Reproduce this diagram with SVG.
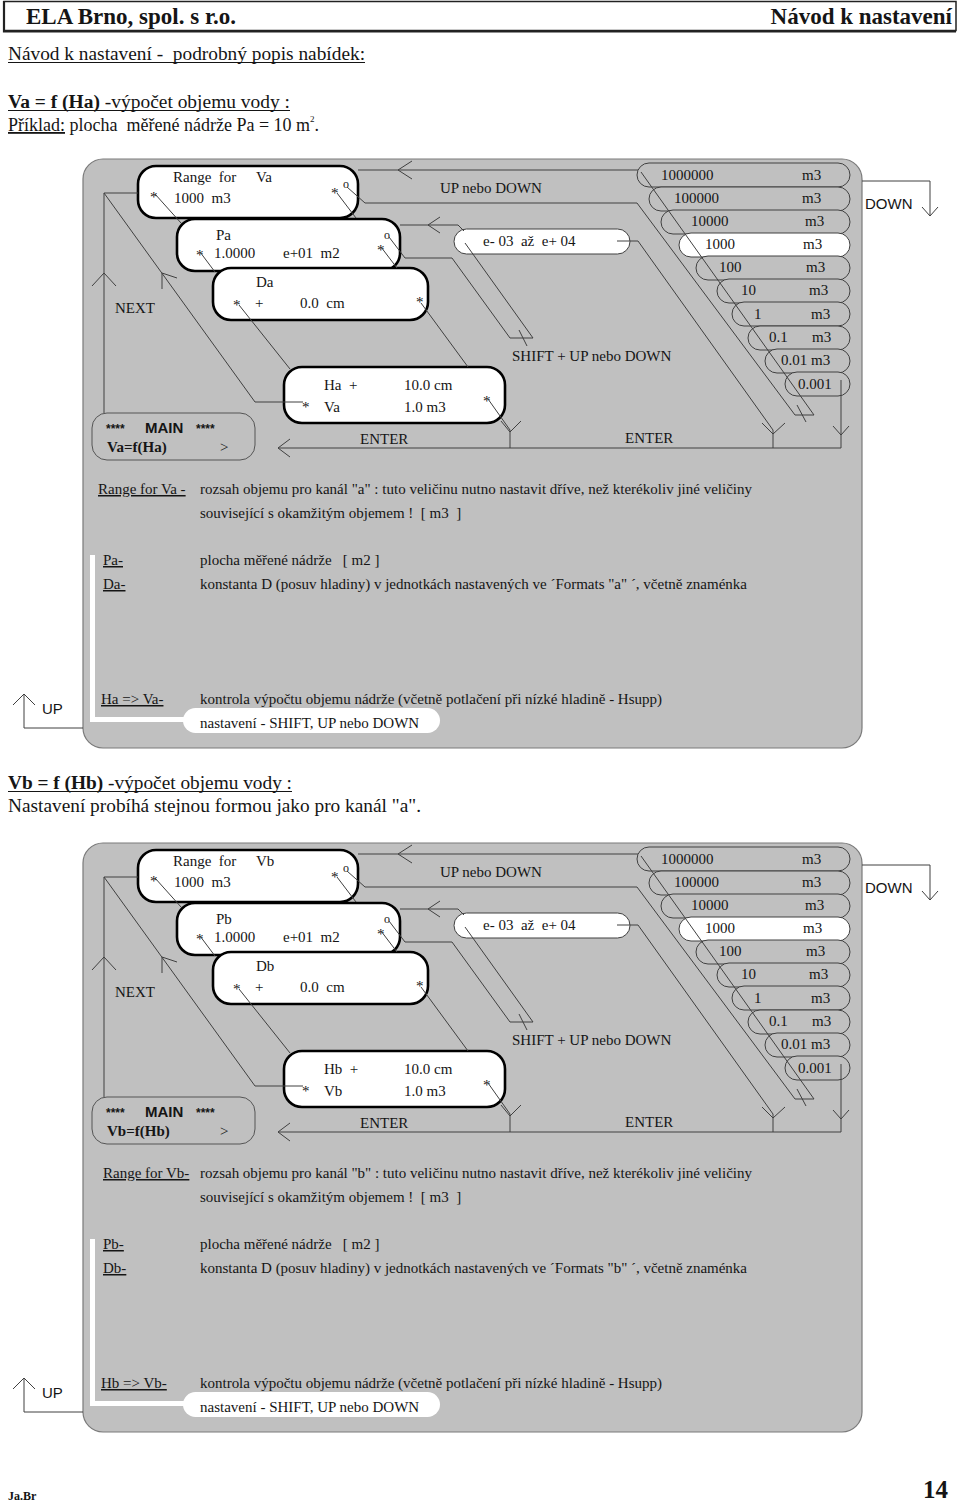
<svg xmlns="http://www.w3.org/2000/svg" width="960" height="1503" viewBox="0 0 960 1503">
<style>
.t{font-family:"Liberation Serif","Times New Roman",serif;font-size:15px;fill:#151515}
.s{font-family:"Liberation Sans",Arial,sans-serif;font-size:15px;fill:#151515}
.b{font-weight:bold}
.panel{fill:#c0c0c0;stroke:#7a7a7a;stroke-width:1.2}
.box{fill:#fff;stroke:#000;stroke-width:2.6}
.main{fill:#c0c0c0;stroke:#555;stroke-width:1}
.pill{fill:#c0c0c0;stroke:#404040;stroke-width:1}
.wpill{fill:#fff;stroke:#404040;stroke-width:1}
.ln{fill:none;stroke:#404040;stroke-width:1}
.wl{fill:none;stroke:#fff;stroke-width:5}
.ul{fill:none;stroke:#151515;stroke-width:1.1}
.u{text-decoration:underline}
</style>
<rect width="960" height="1503" fill="#fff"/>

<g id="header">
<rect x="4" y="1.5" width="952" height="29" fill="none" stroke="#222" stroke-width="1.5"/>
<path d="M4,1 V31.5 H956" fill="none" stroke="#222" stroke-width="2.2"/>
<text class="t b" x="26" y="24" style="font-size:23px">ELA Brno, spol. s r.o.</text>
<text class="t b" x="952" y="24" text-anchor="end" style="font-size:23px">Návod k nastavení</text>
</g>

<g id="intro">
<text class="t" x="8" y="60" style="font-size:18px" textLength="357" lengthAdjust="spacingAndGlyphs" xml:space="preserve">Návod k nastavení -  podrobný popis nabídek:</text>
<path class="ul" d="M8,62.5 H365"/>
<text class="t" x="8" y="108" style="font-size:18px" textLength="282" lengthAdjust="spacingAndGlyphs"><tspan class="b">Va = f (Ha)</tspan> -výpočet objemu vody :</text>
<path class="ul" d="M8,110.5 H290"/>
<text class="t" x="8" y="131" style="font-size:18px" xml:space="preserve"><tspan class="u">Příklad:</tspan> plocha  měřené nádrže Pa = 10 m<tspan style="font-size:9px" dy="-9">2</tspan><tspan dy="9">.</tspan></text>
</g>

<!-- ================= PANEL A ================= -->
<g id="panel-a">
<rect class="panel" x="83" y="159" width="779" height="589" rx="20"/>

<g id="a-range">
<rect class="box" x="138" y="166" width="220" height="52" rx="18"/>
<text class="t" x="173" y="182" xml:space="preserve">Range  for</text>
<text class="t" x="256" y="182">Va</text>
<text class="t" x="150" y="202">*</text>
<text class="t" x="174" y="203" xml:space="preserve">1000  m3</text>
<text class="t" x="331" y="198">*</text>
<text class="t" x="343" y="188" style="font-size:12px">o</text>
</g>

<g id="a-pa">
<rect class="box" x="177" y="219" width="223" height="52" rx="18"/>
<text class="t" x="216" y="240">Pa</text>
<text class="t" x="196" y="260">*</text>
<text class="t" x="214" y="258">1.0000</text>
<text class="t" x="283" y="258" xml:space="preserve">e+01  m2</text>
<text class="t" x="377" y="255">*</text>
<text class="t" x="384" y="239" style="font-size:12px">o</text>
</g>

<g id="a-da">
<rect class="box" x="213" y="268" width="215" height="52" rx="18"/>
<text class="t" x="256" y="287">Da</text>
<text class="t" x="233" y="310">*</text>
<text class="t" x="255" y="308">+</text>
<text class="t" x="300" y="308" xml:space="preserve">0.0  cm</text>
<text class="t" x="416" y="307">*</text>
</g>

<g id="a-ha">
<rect class="box" x="284" y="367" width="221" height="56" rx="18"/>
<text class="t" x="324" y="390" xml:space="preserve">Ha  +</text>
<text class="t" x="404" y="390">10.0 cm</text>
<text class="t" x="302" y="412">*</text>
<text class="t" x="324" y="412">Va</text>
<text class="t" x="404" y="412">1.0 m3</text>
<text class="t" x="483" y="406">*</text>
</g>

<g id="a-main">
<rect class="main" x="92" y="413" width="163" height="47" rx="15"/>
<text class="s b" x="106" y="433" style="font-size:12px">****</text>
<text class="s b" x="145" y="433">MAIN</text>
<text class="s b" x="196" y="433" style="font-size:12px">****</text>
<text class="t b" x="107" y="452">Va=f(Ha)</text>
<text class="t" x="220" y="452">&gt;</text>
</g>

<g id="a-exp">
<rect class="wpill" x="454" y="229" width="176" height="25" rx="12.5"/>
<text class="t" x="483" y="246" xml:space="preserve">e- 03  až  e+ 04</text>
</g>

<g id="a-units">
<rect class="pill" x="637" y="163" width="213" height="24" rx="12"/>
<text class="t" x="661" y="180">1000000</text><text class="t" x="802" y="180">m3</text>
<rect class="pill" x="649" y="187" width="201" height="24" rx="12"/>
<text class="t" x="674" y="203">100000</text><text class="t" x="802" y="203">m3</text>
<rect class="pill" x="661" y="210" width="189" height="24" rx="12"/>
<text class="t" x="691" y="226">10000</text><text class="t" x="805" y="226">m3</text>
<rect class="wpill" x="679" y="233" width="171" height="24" rx="12"/>
<text class="t" x="705" y="249">1000</text><text class="t" x="803" y="249">m3</text>
<rect class="pill" x="696" y="256" width="154" height="24" rx="12"/>
<text class="t" x="719" y="272">100</text><text class="t" x="806" y="272">m3</text>
<rect class="pill" x="717" y="279" width="133" height="24" rx="12"/>
<text class="t" x="741" y="295">10</text><text class="t" x="809" y="295">m3</text>
<rect class="pill" x="732" y="302" width="118" height="24" rx="12"/>
<text class="t" x="754" y="319">1</text><text class="t" x="811" y="319">m3</text>
<rect class="pill" x="748" y="326" width="102" height="24" rx="12"/>
<text class="t" x="769" y="342">0.1</text><text class="t" x="812" y="342">m3</text>
<rect class="pill" x="765" y="349" width="85" height="24" rx="12"/>
<text class="t" x="781" y="365">0.01 m3</text>
<rect class="pill" x="785" y="372" width="65" height="24" rx="12"/>
<text class="t" x="798" y="389">0.001</text>
</g>

<g id="a-labels">
<text class="t" x="115" y="313">NEXT</text>
<text class="t" x="440" y="193">UP nebo DOWN</text>
<text class="t" x="512" y="361">SHIFT + UP nebo DOWN</text>
<text class="t" x="360" y="444">ENTER</text>
<text class="t" x="625" y="443">ENTER</text>
<text class="s" x="865" y="209">DOWN</text>
<text class="s" x="42" y="714">UP</text>
</g>

<g id="connectors-a" class="ln">
<path d="M358,170 H638"/>
<path d="M412,161 L398,170 L412,179"/>
<path d="M347,187 L365,203 H637 L795,415 H814"/>
<path d="M641,172 L814,415"/>
<path d="M797,405 L806,422"/>
<path d="M617,241 H638 L773,430 V448"/>
<path d="M762,423 L773,434 L785,423"/>
<path d="M841,380 V448"/>
<path d="M833,426 L841,435 L849,426"/>
<path d="M278,448 H841"/>
<path d="M290,439 L278,448 L290,457"/>
<path d="M488,399 L510,430 V448"/>
<path d="M501,421 L510,432 L521,421"/>
<path d="M104,413 V193 H138"/>
<path d="M92,286 L104,273 L116,286"/>
<path d="M104,193 L255,402 H303"/>
<path d="M162,289 V273 L177,278"/>
<path d="M155,194 L181,223"/>
<path d="M200,252 L215,272"/>
<path d="M239,305 L290,369"/>
<path d="M337,193 L356,218"/>
<path d="M381,247 L397,268"/>
<path d="M421,303 L468,367"/>
<path d="M400,225 H458 L464,231"/>
<path d="M440,217 L428,225 L440,233"/>
<path d="M389,237 L405,258 H452 L510,338 H533"/>
<path d="M465,243 L533,338"/>
<path d="M519,330 L527,346"/>
<path d="M862,181 H930 V216"/>
<path d="M922,207 L930,216 L938,207"/>
<path d="M83,728 H24 V694"/>
<path d="M13,705 L24,694 L35,705"/>
</g>

<g id="a-text">
<path class="wl" d="M92.5,555 V719.5 H185"/>
<rect x="183" y="708" width="257" height="25" rx="12.5" fill="#fff"/>
<text class="t u" x="98" y="494">Range for Va -</text>
<text class="t" x="200" y="494" textLength="552">rozsah objemu pro kanál "a" : tuto veličinu nutno nastavit dříve, než kterékoliv jiné veličiny</text>
<text class="t" x="200" y="518" xml:space="preserve">související s okamžitým objemem !  [ m3  ]</text>
<text class="t u" x="103" y="565">Pa-</text>
<text class="t" x="200" y="565" xml:space="preserve">plocha měřené nádrže   [ m2 ]</text>
<text class="t u" x="103" y="589">Da-</text>
<text class="t" x="200" y="589" textLength="547">konstanta D (posuv hladiny) v jednotkách nastavených ve ´Formats "a" ´, včetně znaménka</text>
<text class="t u" x="101" y="704">Ha =&gt; Va-</text>
<text class="t" x="200" y="704" textLength="462">kontrola výpočtu objemu nádrže (včetně potlačení při nízké hladině - Hsupp)</text>
<text class="t" x="200" y="728">nastavení - SHIFT, UP nebo DOWN</text>
</g>
</g>

<g id="intro-b">
<text class="t" x="8" y="789" style="font-size:18px" textLength="284" lengthAdjust="spacingAndGlyphs"><tspan class="b">Vb = f (Hb)</tspan> -výpočet objemu vody :</text>
<path class="ul" d="M8,791.5 H292"/>
<text class="t" x="8" y="812" style="font-size:19px" textLength="413" lengthAdjust="spacingAndGlyphs">Nastavení probíhá stejnou formou jako pro kanál "a".</text>
</g>

<!-- ================= PANEL B ================= -->
<g id="panel-b" transform="translate(0,684)">
<rect class="panel" x="83" y="159" width="779" height="589" rx="20"/>

<g id="b-range">
<rect class="box" x="138" y="166" width="220" height="52" rx="18"/>
<text class="t" x="173" y="182" xml:space="preserve">Range  for</text>
<text class="t" x="256" y="182">Vb</text>
<text class="t" x="150" y="202">*</text>
<text class="t" x="174" y="203" xml:space="preserve">1000  m3</text>
<text class="t" x="331" y="198">*</text>
<text class="t" x="343" y="188" style="font-size:12px">o</text>
</g>

<g id="b-pb">
<rect class="box" x="177" y="219" width="223" height="52" rx="18"/>
<text class="t" x="216" y="240">Pb</text>
<text class="t" x="196" y="260">*</text>
<text class="t" x="214" y="258">1.0000</text>
<text class="t" x="283" y="258" xml:space="preserve">e+01  m2</text>
<text class="t" x="377" y="255">*</text>
<text class="t" x="384" y="239" style="font-size:12px">o</text>
</g>

<g id="b-db">
<rect class="box" x="213" y="268" width="215" height="52" rx="18"/>
<text class="t" x="256" y="287">Db</text>
<text class="t" x="233" y="310">*</text>
<text class="t" x="255" y="308">+</text>
<text class="t" x="300" y="308" xml:space="preserve">0.0  cm</text>
<text class="t" x="416" y="307">*</text>
</g>

<g id="b-hb">
<rect class="box" x="284" y="367" width="221" height="56" rx="18"/>
<text class="t" x="324" y="390" xml:space="preserve">Hb  +</text>
<text class="t" x="404" y="390">10.0 cm</text>
<text class="t" x="302" y="412">*</text>
<text class="t" x="324" y="412">Vb</text>
<text class="t" x="404" y="412">1.0 m3</text>
<text class="t" x="483" y="406">*</text>
</g>

<g id="b-main">
<rect class="main" x="92" y="413" width="163" height="47" rx="15"/>
<text class="s b" x="106" y="433" style="font-size:12px">****</text>
<text class="s b" x="145" y="433">MAIN</text>
<text class="s b" x="196" y="433" style="font-size:12px">****</text>
<text class="t b" x="107" y="452">Vb=f(Hb)</text>
<text class="t" x="220" y="452">&gt;</text>
</g>

<g id="b-exp">
<rect class="wpill" x="454" y="229" width="176" height="25" rx="12.5"/>
<text class="t" x="483" y="246" xml:space="preserve">e- 03  až  e+ 04</text>
</g>

<g id="b-units">
<rect class="pill" x="637" y="163" width="213" height="24" rx="12"/>
<text class="t" x="661" y="180">1000000</text><text class="t" x="802" y="180">m3</text>
<rect class="pill" x="649" y="187" width="201" height="24" rx="12"/>
<text class="t" x="674" y="203">100000</text><text class="t" x="802" y="203">m3</text>
<rect class="pill" x="661" y="210" width="189" height="24" rx="12"/>
<text class="t" x="691" y="226">10000</text><text class="t" x="805" y="226">m3</text>
<rect class="wpill" x="679" y="233" width="171" height="24" rx="12"/>
<text class="t" x="705" y="249">1000</text><text class="t" x="803" y="249">m3</text>
<rect class="pill" x="696" y="256" width="154" height="24" rx="12"/>
<text class="t" x="719" y="272">100</text><text class="t" x="806" y="272">m3</text>
<rect class="pill" x="717" y="279" width="133" height="24" rx="12"/>
<text class="t" x="741" y="295">10</text><text class="t" x="809" y="295">m3</text>
<rect class="pill" x="732" y="302" width="118" height="24" rx="12"/>
<text class="t" x="754" y="319">1</text><text class="t" x="811" y="319">m3</text>
<rect class="pill" x="748" y="326" width="102" height="24" rx="12"/>
<text class="t" x="769" y="342">0.1</text><text class="t" x="812" y="342">m3</text>
<rect class="pill" x="765" y="349" width="85" height="24" rx="12"/>
<text class="t" x="781" y="365">0.01 m3</text>
<rect class="pill" x="785" y="372" width="65" height="24" rx="12"/>
<text class="t" x="798" y="389">0.001</text>
</g>

<g id="b-labels">
<text class="t" x="115" y="313">NEXT</text>
<text class="t" x="440" y="193">UP nebo DOWN</text>
<text class="t" x="512" y="361">SHIFT + UP nebo DOWN</text>
<text class="t" x="360" y="444">ENTER</text>
<text class="t" x="625" y="443">ENTER</text>
<text class="s" x="865" y="209">DOWN</text>
<text class="s" x="42" y="714">UP</text>
</g>

<g id="connectors-b" class="ln">
<path d="M358,170 H638"/>
<path d="M412,161 L398,170 L412,179"/>
<path d="M347,187 L365,203 H637 L795,415 H814"/>
<path d="M641,172 L814,415"/>
<path d="M797,405 L806,422"/>
<path d="M617,241 H638 L773,430 V448"/>
<path d="M762,423 L773,434 L785,423"/>
<path d="M841,380 V448"/>
<path d="M833,426 L841,435 L849,426"/>
<path d="M278,448 H841"/>
<path d="M290,439 L278,448 L290,457"/>
<path d="M488,399 L510,430 V448"/>
<path d="M501,421 L510,432 L521,421"/>
<path d="M104,413 V193 H138"/>
<path d="M92,286 L104,273 L116,286"/>
<path d="M104,193 L255,402 H303"/>
<path d="M162,289 V273 L177,278"/>
<path d="M155,194 L181,223"/>
<path d="M200,252 L215,272"/>
<path d="M239,305 L290,369"/>
<path d="M337,193 L356,218"/>
<path d="M381,247 L397,268"/>
<path d="M421,303 L468,367"/>
<path d="M400,225 H458 L464,231"/>
<path d="M440,217 L428,225 L440,233"/>
<path d="M389,237 L405,258 H452 L510,338 H533"/>
<path d="M465,243 L533,338"/>
<path d="M519,330 L527,346"/>
<path d="M862,181 H930 V216"/>
<path d="M922,207 L930,216 L938,207"/>
<path d="M83,728 H24 V694"/>
<path d="M13,705 L24,694 L35,705"/>
</g>

<g id="b-text">
<path class="wl" d="M92.5,555 V719.5 H185"/>
<rect x="183" y="708" width="257" height="25" rx="12.5" fill="#fff"/>
<text class="t u" x="103" y="494">Range for Vb-</text>
<text class="t" x="200" y="494" textLength="552">rozsah objemu pro kanál "b" : tuto veličinu nutno nastavit dříve, než kterékoliv jiné veličiny</text>
<text class="t" x="200" y="518" xml:space="preserve">související s okamžitým objemem !  [ m3  ]</text>
<text class="t u" x="103" y="565">Pb-</text>
<text class="t" x="200" y="565" xml:space="preserve">plocha měřené nádrže   [ m2 ]</text>
<text class="t u" x="103" y="589">Db-</text>
<text class="t" x="200" y="589" textLength="547">konstanta D (posuv hladiny) v jednotkách nastavených ve ´Formats "b" ´, včetně znaménka</text>
<text class="t u" x="101" y="704">Hb =&gt; Vb-</text>
<text class="t" x="200" y="704" textLength="462">kontrola výpočtu objemu nádrže (včetně potlačení při nízké hladině - Hsupp)</text>
<text class="t" x="200" y="728">nastavení - SHIFT, UP nebo DOWN</text>
</g>
</g>

<g id="footer">
<text class="t b" x="8" y="1500" style="font-size:12px">Ja.Br</text>
<text class="t b" x="948" y="1498" text-anchor="end" style="font-size:25px">14</text>
</g>
</svg>
